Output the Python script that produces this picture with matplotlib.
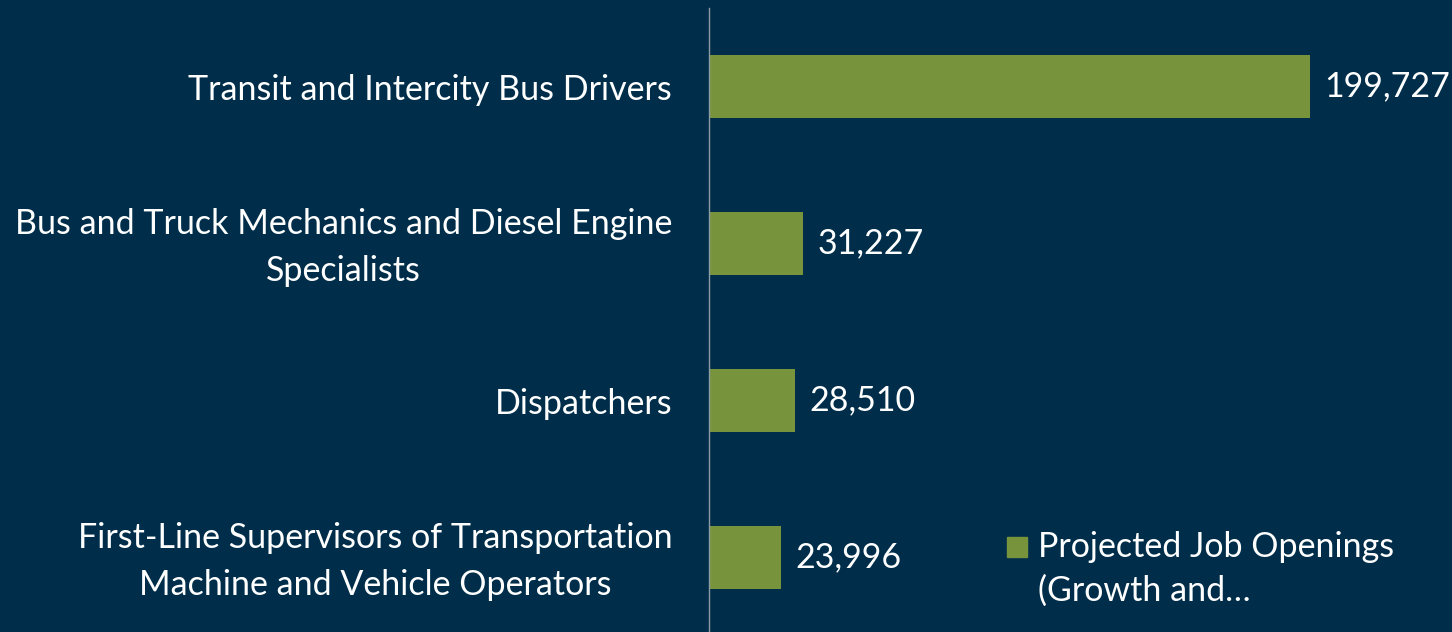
import matplotlib.pyplot as plt
from matplotlib.patches import Rectangle
from matplotlib.transforms import ScaledTranslation

# ---- Data ----
categories = [
    "Transit and Intercity Bus Drivers",
    "Bus and Truck Mechanics and Diesel Engine\nSpecialists",
    "Dispatchers",
    "First-Line Supervisors of Transportation\nMachine and Vehicle Operators",
]
openings = [199727, 31227, 28510, 23996]
legend_lines = ["Projected Job Openings", "(Growth and\u2026"]

# ---- Style ----
bg = "#002E4A"
bar_color = "#77933C"
fs = 24.5
plt.rcParams["font.family"] = ["Lato", "DejaVu Sans"]

W, H = 1452, 632
fig = plt.figure(figsize=(W / 100, H / 100), dpi=100, facecolor=bg)
ax = fig.add_axes([709 / W, -4 / H, (W - 709) / W, 628 / H])
ax.set_facecolor(bg)

y = list(range(len(categories)))
ax.barh(y, openings, height=0.4, color=bar_color)
ax.set_ylim(3.5, -0.5)
ax.set_xlim(0, (W - 709) / 601 * 199727)

for s in ["top", "right", "bottom"]:
    ax.spines[s].set_visible(False)
ax.spines["left"].set_color("#8C9BA5")
ax.spines["left"].set_linewidth(1)
ax.set_xticks([])
ax.set_yticks(y)
ax.set_yticklabels(categories, color="white", fontsize=fs, ha="right",
                   multialignment="center", linespacing=1.6)
ax.tick_params(axis="y", length=0, pad=26.5)

# two-line labels: centre them on the bar
shift = ScaledTranslation(0, -3 / 72, fig.dpi_scale_trans)
for lbl in ax.get_yticklabels():
    if "\n" in lbl.get_text():
        lbl.set_va("center")
        lbl.set_transform(lbl.get_transform() + shift)

for yi, v in zip(y, openings):
    ax.annotate(f"{v:,}", (v, yi), xytext=(10.5, 0), textcoords="offset points",
                va="center", ha="left", color="white", fontsize=fs,
                annotation_clip=False)

# legend drawn by hand: square + two lines of text
fig.patches.append(Rectangle((1007 / W, 1 - 557 / H), 20 / W, 20 / H,
                             transform=fig.transFigure, color=bar_color))
fig.text(1038 / W, 1 - 547 / H, legend_lines[0], color="white", fontsize=fs,
         va="center", ha="left")
fig.text(1038 / W, 1 - 591 / H, legend_lines[1], color="white", fontsize=fs,
         va="center", ha="left")

fig.savefig("out.png", dpi=100, facecolor=bg)
